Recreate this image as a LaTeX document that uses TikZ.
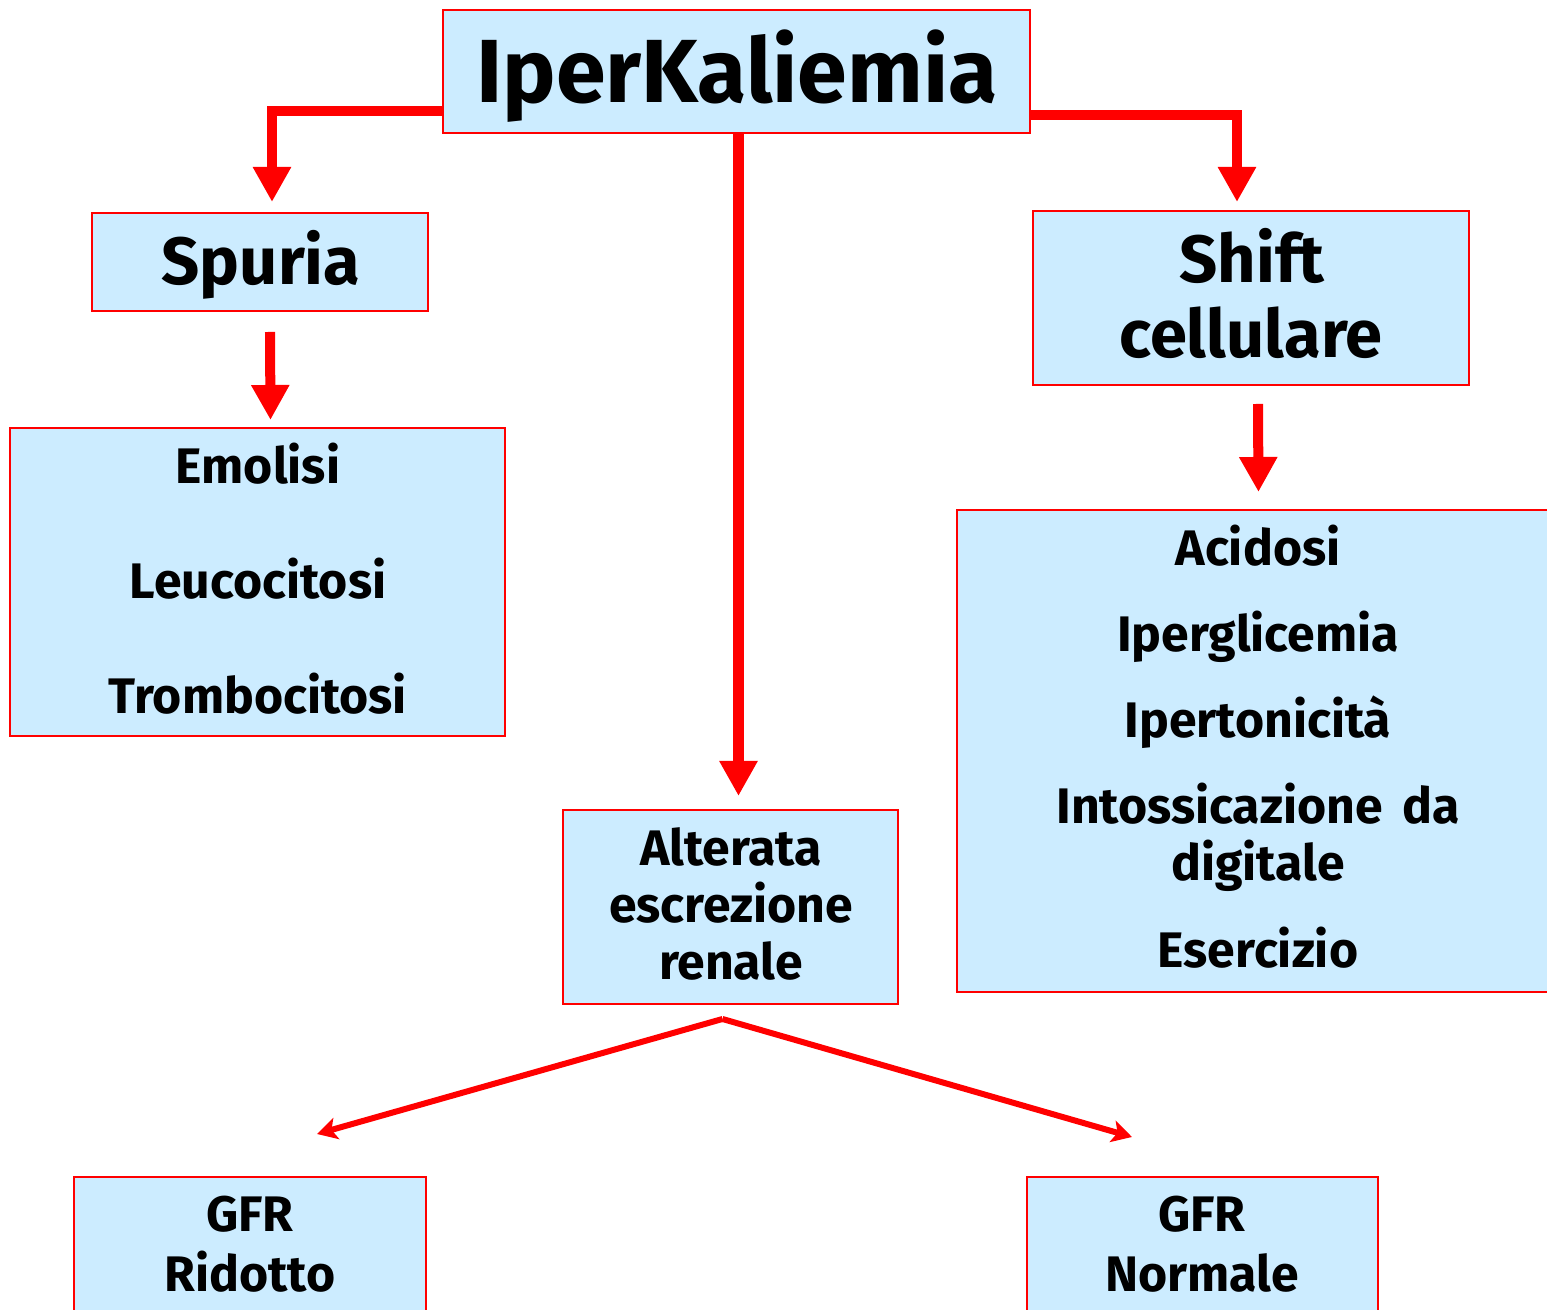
\documentclass[tikz,border=0pt]{standalone}
\usepackage{fontspec}
\setmainfont{Fira Sans}[UprightFont=* Bold]
\usetikzlibrary{arrows.meta,fit,calc}
\definecolor{boxfill}{HTML}{CCECFF}
\definecolor{boxline}{HTML}{FF0000}
\tikzset{
  box/.style={draw=boxline, line width=0.02cm, fill=boxfill, inner sep=0pt, rectangle},
  txt/.style={anchor=base, inner sep=0pt, text=black},
  big/.style={font=\fontsize{25.5}{30}\selectfont},
  mid/.style={font=\fontsize{19}{23}\selectfont},
  small/.style={font=\fontsize{14.2}{17}\selectfont},
  fatarrow/.style={draw=boxline, line width=0.1cm, miter limit=10,
    -{Triangle[width=0.36cm,length=0.35cm]}},
  thinarrow/.style={draw=boxline, line width=0.06cm,
    -{Stealth[width=0.22cm,length=0.2cm,inset=0.05cm]}}
}
\begin{document}
\begin{tikzpicture}[x=0.01cm,y=-0.01cm]
\useasboundingbox (0,0) rectangle (1547,1310);
\clip (0,0) rectangle (1547,1310);
% boxes
\node[box, fit={(443,10) (1030,133)}] (iper) {};
\node[box, fit={(92,213) (428,311)}] (spuria) {};
\node[box, fit={(1033,211) (1469,385)}] (shift) {};
\node[box, fit={(10,428) (505,736)}] (emol) {};
\node[box, fit={(563,810) (898,1004)}] (alt) {};
\node[box, fit={(957,510) (1570,992)}] (acid) {};
\node[box, fit={(74,1177) (426,1340)}] (gfrr) {};
\node[box, fit={(1027,1177) (1378,1340)}] (gfrn) {};
% texts
\node[txt,big] (tIper) at (737,103) {IperKaliemia};
\node[txt,mid] (tSpu) at (261,285) {Spuria};
\node[txt,mid] (tSh1) at (1252,283) {Shift};
\node[txt,mid] (tSh2) at (1251,358) {cellulare};
\node[txt,small] (tE1) at (258,484) {Emolisi};
\node[txt,small] (tE2) at (258,599) {Leucocitosi};
\node[txt,small] (tE3) at (258,714) {Trombocitosi};
\node[txt,small] (tA1) at (1258,566) {Acidosi};
\node[txt,small] (tA2) at (1258,652) {Iperglicemia};
\node[txt,small] (tA3) at (1258,738) {Ipertonicità};
\node[txt,small] (tA4) at (1258,824) {Intossicazione\hspace{0.15em} da};
\node[txt,small] (tA5) at (1258,881) {digitale};
\node[txt,small] (tA6) at (1258,968) {Esercizio};
\node[txt,small] (tR1) at (731,866) {Alterata};
\node[txt,small] (tR2) at (731,923) {escrezione};
\node[txt,small] (tR3) at (731,980) {renale};
\node[txt,small] (tG1) at (250,1232) {GFR};
\node[txt,small] (tG2) at (250,1292) {Ridotto};
\node[txt,small] (tN1) at (1202,1232) {GFR};
\node[txt,small] (tN2) at (1202,1292) {Normale};
% connectors
\draw[fatarrow] ($(iper.south west)+(0,-23)$) -| ($(spuria.north)+(12,-10)$);
\draw[fatarrow] ($(iper.south east)+(0,-19)$) -| ($(shift.north)+(-14,-8)$);
\draw[fatarrow] ($(iper.south)+(2,0)$) -- ($(alt.north)+(8,-13)$);
\draw[fatarrow] ($(spuria.south)+(10,20)$) -- ($(emol.north)+(13,-7)$);
\draw[fatarrow] ($(shift.south)+(7,18)$) -- ($(acid.north)+(-5,-17)$);
\coordinate (vtop) at ($(alt.south)+(-8,14)$);
\coordinate (vl) at (317,1134);
\coordinate (vr) at (1132,1137);
\draw[thinarrow] (vtop) -- (vl);
\draw[thinarrow] (vtop) -- (vr);
\end{tikzpicture}
\end{document}
